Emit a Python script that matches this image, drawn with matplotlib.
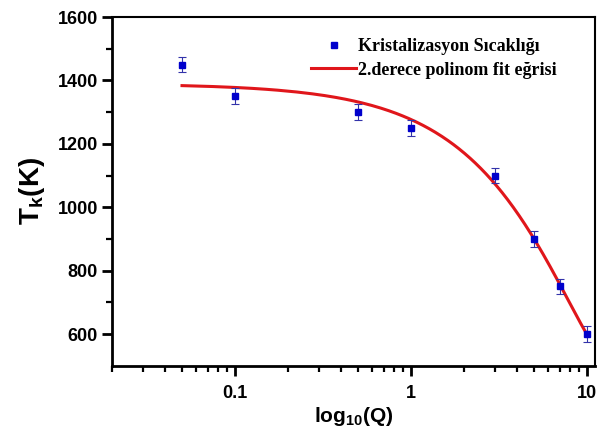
import numpy as np
import matplotlib
matplotlib.use("Agg")
import matplotlib.pyplot as plt
from matplotlib.lines import Line2D

# heating rate Q and crystallization temperature (K)
q_values = [0.05, 0.1, 0.5, 1, 3, 5, 7, 10]
t_values = [1450, 1350, 1300, 1250, 1100, 900, 750, 600]
t_errors = [25, 25, 25, 25, 25, 25, 25, 25]

point_label = "Kristalizasyon Sıcaklığı"
fit_label = "2.derece polinom fit eğrisi"

coef = np.polyfit(q_values, t_values, 2)
q_fit = np.linspace(min(q_values), max(q_values), 400)
t_fit = np.polyval(coef, q_fit)

fig = plt.figure(figsize=(6.04, 4.33), dpi=100)
ax = fig.add_axes([0.1854, 0.1554, 0.7996, 0.8053])

ax.errorbar(q_values, t_values, yerr=t_errors, fmt='s', color='#0000cc', ms=4.5,
            ecolor='#3333aa', elinewidth=0.8, capsize=3, capthick=0.8,
            zorder=3)
ax.plot(q_fit, t_fit, color='#e0161b', lw=2.2, zorder=2)

ax.set_xscale('log')
ax.set_xlim(0.02, 11.1)
ax.set_ylim(500, 1600)
ax.set_yticks([600, 800, 1000, 1200, 1400, 1600])
ax.set_yticks([700, 900, 1100, 1300, 1500], minor=True)
ax.set_xticks([0.1, 1, 10])
ax.set_xticklabels(['0.1', '1', '10'])

for side in ['left', 'bottom']:
    ax.spines[side].set_linewidth(2.0)
for side in ['top', 'right']:
    ax.spines[side].set_linewidth(1.5)

ax.tick_params(which='major', direction='out', length=7, width=2, labelsize=13, pad=3)
ax.tick_params(axis='x', which='major', pad=7)
ax.tick_params(which='minor', direction='out', length=4, width=1.6)
for lab in ax.get_xticklabels() + ax.get_yticklabels():
    lab.set_fontfamily('Liberation Sans')
    lab.set_fontweight('bold')

ax.set_ylabel(r'T$_\mathregular{k}$(K)', fontsize=20, fontweight='bold',
              fontfamily='Liberation Sans', labelpad=8)
ax.set_xlabel(r'log$_\mathregular{10}$(Q)', fontsize=15, fontweight='bold',
              fontfamily='Liberation Sans', labelpad=2)

h_pt = Line2D([], [], marker='s', ls='none', color='#0000cc', ms=4.5)
h_ln = Line2D([], [], color='#e0161b', lw=2.2)
leg = ax.legend([h_pt, h_ln], [point_label, fit_label], loc='upper right',
                bbox_to_anchor=(0.955, 0.985), frameon=False,
                prop={'family': 'Liberation Serif', 'weight': 'bold', 'size': 13},
                handlelength=2.5, handletextpad=0.1, labelspacing=0.35)

fig.savefig('out.png', dpi=100)
